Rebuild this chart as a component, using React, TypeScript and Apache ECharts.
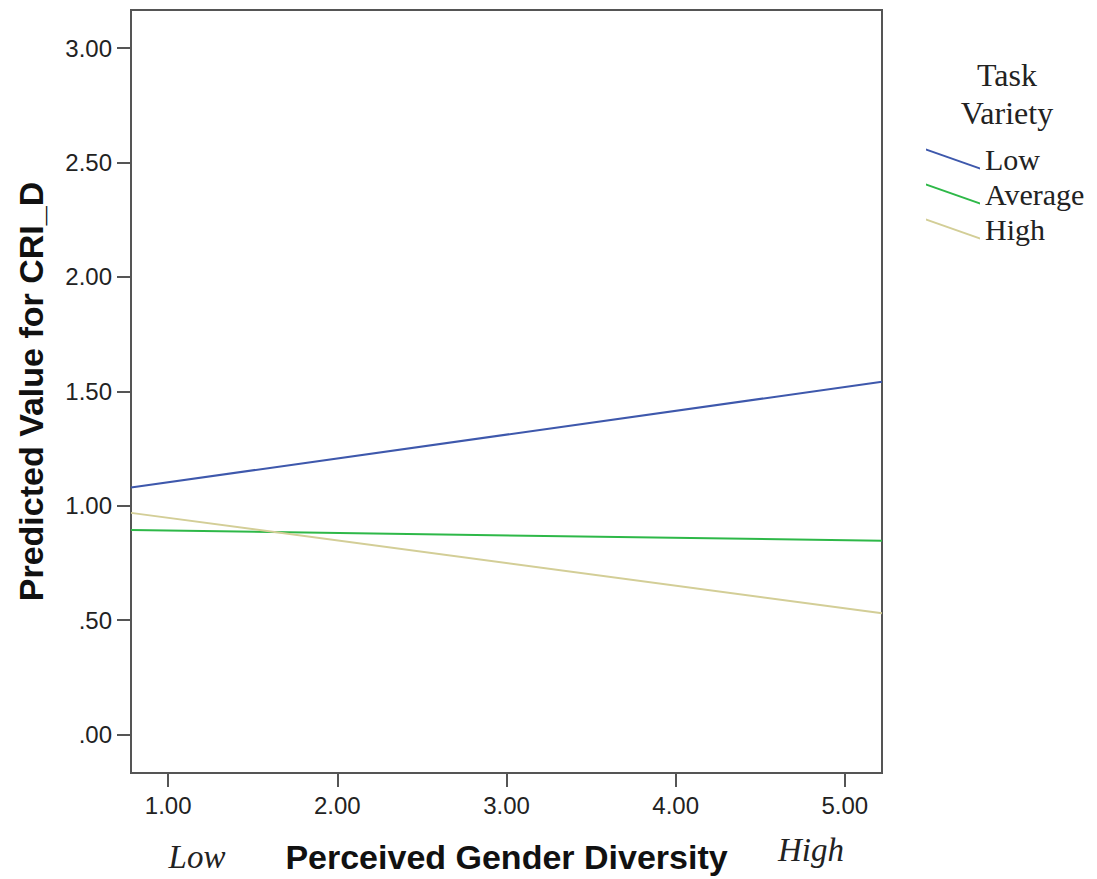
import React, { useEffect, useRef } from "react";
import * as echarts from "echarts";

const xEnds = [0.78, 5.22];
const seriesNames = ["Low", "Average", "High"];
const lowValues = [1.08, 1.542];
const averageValues = [0.894, 0.847];
const highValues = [0.969, 0.53];
const seriesColors = ["#3E58AC", "#2EB848", "#D3CE97"];
const xTicks = [1, 2, 3, 4, 5];
const yTicks = [0, 0.5, 1, 1.5, 2, 2.5, 3];

const fmtY = (v: number) => {
  const s = v.toFixed(2);
  return s.startsWith("0") ? s.slice(1) : s;
};

export default function App() {
  const ref = useRef<HTMLDivElement>(null);
  useEffect(() => {
    if (!ref.current) return;
    const chart = echarts.init(ref.current, null, { renderer: "svg" });
    const values = [lowValues, averageValues, highValues];
    const axisColor = "#555";
    chart.setOption({
      animation: false,
      backgroundColor: "#fff",
      title: {
        text: "Task\nVariety",
        left: 1007,
        top: 56,
        padding: 0,
        textAlign: "center",
        textStyle: {
          fontFamily: "Liberation Serif",
          fontWeight: "normal",
          fontSize: 32,
          lineHeight: 38,
          color: "#222",
        },
      },
      legend: {
        orient: "vertical",
        left: 926,
        top: 144,
        padding: 0,
        itemWidth: 54,
        itemHeight: 21,
        itemGap: 5,
        icon: "path://M0,0L54,19L54,21L0,2Z",
        itemStyle: { borderWidth: 0 },
        textStyle: {
          fontFamily: "Liberation Serif",
          fontSize: 30,
          color: "#222",
        },
        data: seriesNames,
      },
      grid: {
        left: 131,
        right: 215,
        top: 10,
        bottom: 106,
        show: true,
        borderColor: axisColor,
        borderWidth: 2,
      },
      xAxis: {
        type: "value",
        min: xEnds[0],
        max: xEnds[1],
        name: "Perceived Gender Diversity",
        nameLocation: "middle",
        nameGap: 67,
        nameTextStyle: {
          fontFamily: "Liberation Sans",
          fontWeight: "bold",
          fontSize: 34,
          color: "#111",
        },
        axisLine: { show: true, onZero: false, lineStyle: { color: axisColor, width: 2 } },
        axisTick: {
          show: true,
          customValues: xTicks,
          length: 14,
          lineStyle: { color: axisColor, width: 2 },
        },
        axisLabel: {
          customValues: xTicks,
          formatter: (v: number) => v.toFixed(2),
          margin: 20,
          fontFamily: "Liberation Sans",
          fontSize: 24,
          color: "#222",
        },
        splitLine: { show: false },
      },
      yAxis: {
        type: "value",
        min: -0.168,
        max: 3.167,
        name: "Predicted Value for CRI_D",
        nameLocation: "middle",
        nameGap: 83,
        nameTextStyle: {
          fontFamily: "Liberation Sans",
          fontWeight: "bold",
          fontSize: 34,
          color: "#111",
        },
        axisLine: { show: true, onZero: false, lineStyle: { color: axisColor, width: 2 } },
        axisTick: {
          show: true,
          customValues: yTicks,
          length: 14,
          lineStyle: { color: axisColor, width: 2 },
        },
        axisLabel: {
          customValues: yTicks,
          formatter: (v: number) => fmtY(v),
          margin: 19,
          fontFamily: "Liberation Sans",
          fontSize: 24,
          color: "#222",
        },
        splitLine: { show: false },
      },
      graphic: [
        {
          type: "text",
          x: 197,
          y: 857,
          style: {
            text: "Low",
            font: "italic 33px 'Liberation Serif'",
            fill: "#222",
            textAlign: "center",
            textVerticalAlign: "middle",
          },
        },
        {
          type: "text",
          x: 811,
          y: 850,
          style: {
            text: "High",
            font: "italic 33px 'Liberation Serif'",
            fill: "#222",
            textAlign: "center",
            textVerticalAlign: "middle",
          },
        },
      ],
      series: seriesNames.map((name, i) => ({
        name,
        type: "line",
        color: seriesColors[i],
        showSymbol: false,
        symbol: "none",
        lineStyle: { width: 2, color: seriesColors[i] },
        data: xEnds.map((x, j) => [x, values[i][j]]),
      })),
    });
    return () => chart.dispose();
  }, []);
  return (
    <div
      ref={ref}
      style={{ position: "absolute", left: 0, top: 0, width: 1097, height: 879 }}
    />
  );
}
